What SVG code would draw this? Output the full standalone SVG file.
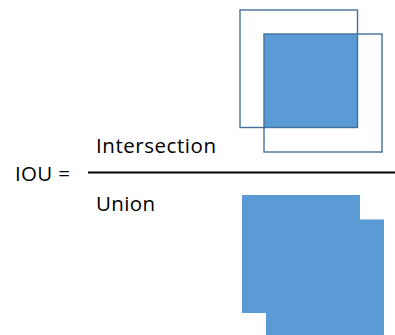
<svg xmlns="http://www.w3.org/2000/svg" width="395" height="335" viewBox="0 0 395 335">
<style>
.t{font-family:"Open Sans","Liberation Sans",sans-serif;font-size:20.5px;fill:#000}
.box{fill:none;stroke:#41719c;stroke-width:1.4}
.fill{fill:#5b9bd5}
</style>
<rect width="395" height="335" fill="#fff"/>
<g id="formula">
<text class="t" x="15" y="181" textLength="55">IOU =</text>
<text class="t" x="96" y="152.5" textLength="120">Intersection</text>
<text class="t" x="96" y="210.5" textLength="59">Union</text>
<line x1="88" y1="172.5" x2="395" y2="172.5" stroke="#000" stroke-width="2"/>
</g>
<g id="intersection">
<rect class="fill" x="264" y="34" width="93.5" height="93.5"/>
<rect class="box" x="240" y="10" width="117.5" height="117.5"/>
<rect class="box" x="264" y="34" width="118" height="118"/>
</g>
<g id="union">
<rect class="fill" x="242" y="195" width="118" height="118"/>
<rect class="fill" x="266" y="219.5" width="118" height="118"/>
</g>
</svg>
